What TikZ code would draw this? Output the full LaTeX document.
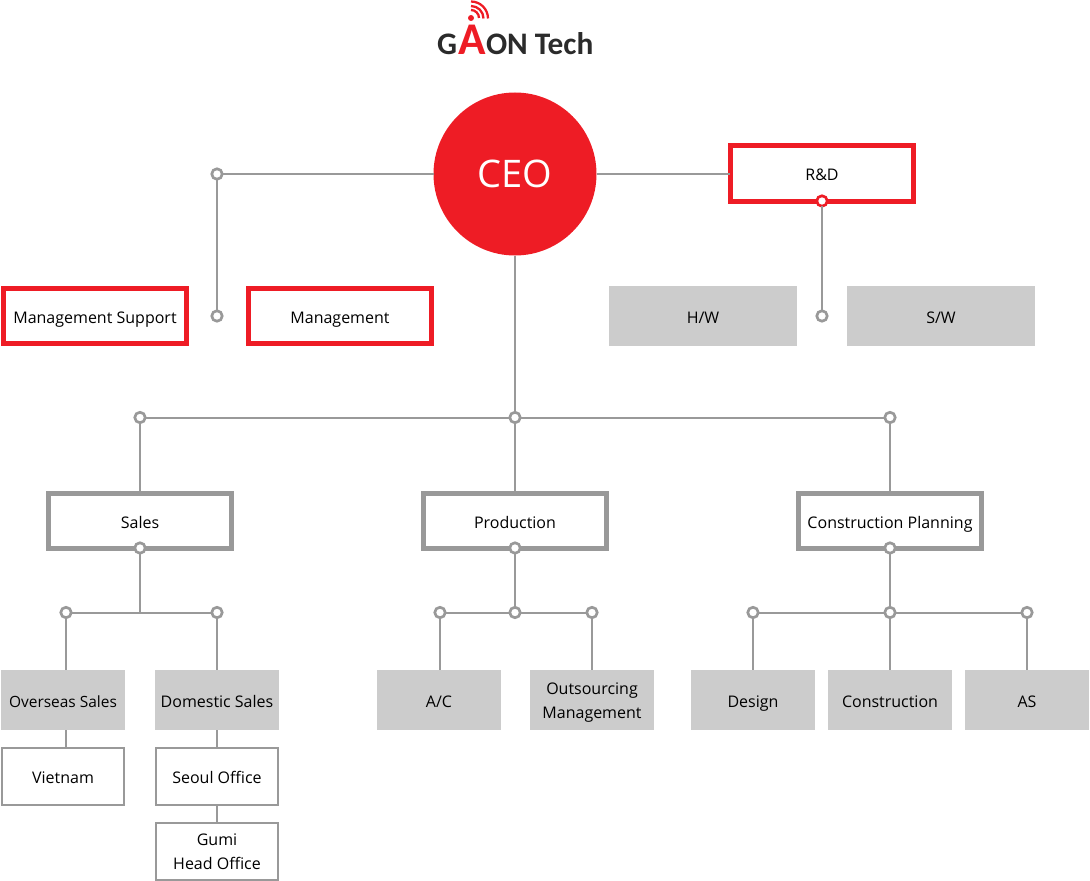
\documentclass[tikz,border=0pt]{standalone}
\usepackage{fontspec}
\setmainfont{Open Sans}
\newfontfamily\logofont{Carlito}
\definecolor{cred}{HTML}{EE1C25}
\definecolor{cline}{HTML}{999999}
\definecolor{cfill}{HTML}{CCCCCC}
\definecolor{clogo}{HTML}{2B2B2B}
\tikzset{
  x=0.75pt,y=-0.75pt,
  every node/.style={inner sep=0pt,outer sep=0pt,align=center,text=black,font=\fontsize{12}{18}\selectfont},
  one/.style={text height=12pt,text depth=1.5pt},
  two/.style={text height=27pt,text depth=0pt},
  conn/.style={draw=cline,line width=1.5pt},
  redbox/.style={one,draw=cred,fill=white,line width=3.4pt,minimum width=183.5*0.75pt,minimum height=55.5*0.75pt},
  graybox/.style={one,draw=cline,fill=white,line width=3.4pt,minimum width=183.5*0.75pt,minimum height=55.5*0.75pt},
  solidbig/.style={one,fill=cfill,minimum width=188*0.75pt,minimum height=60*0.75pt},
  solidsmall/.style={fill=cfill,minimum width=124*0.75pt,minimum height=60*0.75pt},
  thinbox/.style={draw=cline,fill=white,line width=1.5pt,minimum width=122*0.75pt,minimum height=57*0.75pt},
  jdot/.style={circle,draw=cline,fill=white,line width=2pt,minimum size=10.5*0.75pt},
  jdotred/.style={circle,draw=cred,fill=white,line width=2pt,minimum size=10.5*0.75pt},
}
\begin{document}
\begin{tikzpicture}
\useasboundingbox (0,0) rectangle (1090,881);
% logo
\node[anchor=base west,font=\logofont\bfseries\fontsize{23.5}{24}\selectfont,text=clogo] (logoG) at (437,55) {G};
\node[anchor=base,font=\logofont\bfseries\fontsize{34}{34}\selectfont,text=cred] (logoA) at (472,55) {A};
\node[anchor=base west,font=\logofont\bfseries\fontsize{23.5}{24}\selectfont,text=clogo] (logoT) at (486,55) {ON Tech};
\fill[cred] (471,18) circle (3);
\draw[cred,line width=1.7pt] (471,10) arc (-90:0:8);
\draw[cred,line width=1.7pt] (471,6) arc (-90:0:12.5);
\draw[cred,line width=1.7pt] (471,1.5) arc (-90:0:17);
% top
\node[circle,fill=cred,minimum size=163*0.75pt,text=white,font=\fontsize{28.5}{30}\selectfont,text height=20.4pt,text depth=0pt] (ceo) at (515,174) {CEO};
\node[redbox] (rd) at (822,173.5) {R\&D};
\node[redbox] (mgs) at (95,316) {Management Support};
\node[redbox] (mg) at (340,316) {Management};
\node[solidbig] (hw) at (703,316) {H/W};
\node[solidbig] (sw) at (941,316) {S/W};
\node[jdot] (d1) at (217,174) {};
\node[jdot] (d2) at (217,316) {};
\node[jdotred] (d3) at (822,201) {};
\node[jdot] (d4) at (822,316) {};
\draw[conn] (ceo) -- (d1);
\draw[conn] (d1) -- (d2);
\draw[conn] (ceo) -- (ceo -| rd.west);
\draw[conn] (d3) -- (d4);
% divisions
\node[jdot] (b1) at (140,417.5) {};
\node[jdot] (b2) at (515,417.5) {};
\node[jdot] (b3) at (890,417.5) {};
\node[graybox] (sales) at (140,521) {Sales};
\node[graybox] (prod) at (515,521) {Production};
\node[graybox] (cons) at (890,521) {Construction Planning};
\node[jdot] (s1) at (140,548) {};
\node[jdot] (s2) at (515,548) {};
\node[jdot] (s3) at (890,548) {};
\draw[conn] (ceo) -- (b2);
\draw[conn] (b1) -- (b2);
\draw[conn] (b2) -- (b3);
\draw[conn] (b1) -- (sales);
\draw[conn] (b2) -- (prod);
\draw[conn] (b3) -- (cons);
% sub-junctions
\node[jdot] (j1) at (66,612.5) {};
\node[jdot] (j2) at (217,612.5) {};
\node[jdot] (j3) at (440,612.5) {};
\node[jdot] (j4) at (515,612.5) {};
\node[jdot] (j5) at (592,612.5) {};
\node[jdot] (j6) at (753,612.5) {};
\node[jdot] (j7) at (890,612.5) {};
\node[jdot] (j8) at (1027,612.5) {};
\coordinate (tee) at (140,612.5);
\draw[conn] (j1) -- (j2);
\draw[conn] (s1) -- (tee);
\draw[conn] (j3) -- (j4);
\draw[conn] (j4) -- (j5);
\draw[conn] (s2) -- (j4);
\draw[conn] (j6) -- (j7);
\draw[conn] (j7) -- (j8);
\draw[conn] (s3) -- (j7);
% departments
\node[solidsmall,one,font=\fontsize{11.6}{18}\selectfont] (over) at (63,700) {Overseas Sales};
\node[solidsmall,one] (dom) at (217,700) {Domestic Sales};
\node[solidsmall,one] (ac) at (439,700) {A/C};
\node[solidsmall,two] (out) at (592,700) {Outsourcing\\Management};
\node[solidsmall,one] (des) at (753,700) {Design};
\node[solidsmall,one] (con) at (890,700) {Construction};
\node[solidsmall,one] (as) at (1027,700) {AS};
\node[thinbox,one] (vn) at (63,776) {Vietnam};
\node[thinbox,one] (seoul) at (217,776) {Seoul Office};
\node[thinbox,two] (gumi) at (217,851) {Gumi\\Head Office};
\draw[conn] (j1) -- (j1 |- over.north);
\draw[conn] (j2) -- (dom);
\draw[conn] (j3) -- (j3 |- ac.north);
\draw[conn] (j5) -- (out);
\draw[conn] (j6) -- (des);
\draw[conn] (j7) -- (con);
\draw[conn] (j8) -- (as);
\draw[conn] (over.south -| j1) -- (vn.north -| j1);
\draw[conn] (dom) -- (seoul);
\draw[conn] (seoul) -- (gumi);
\end{tikzpicture}
\end{document}
